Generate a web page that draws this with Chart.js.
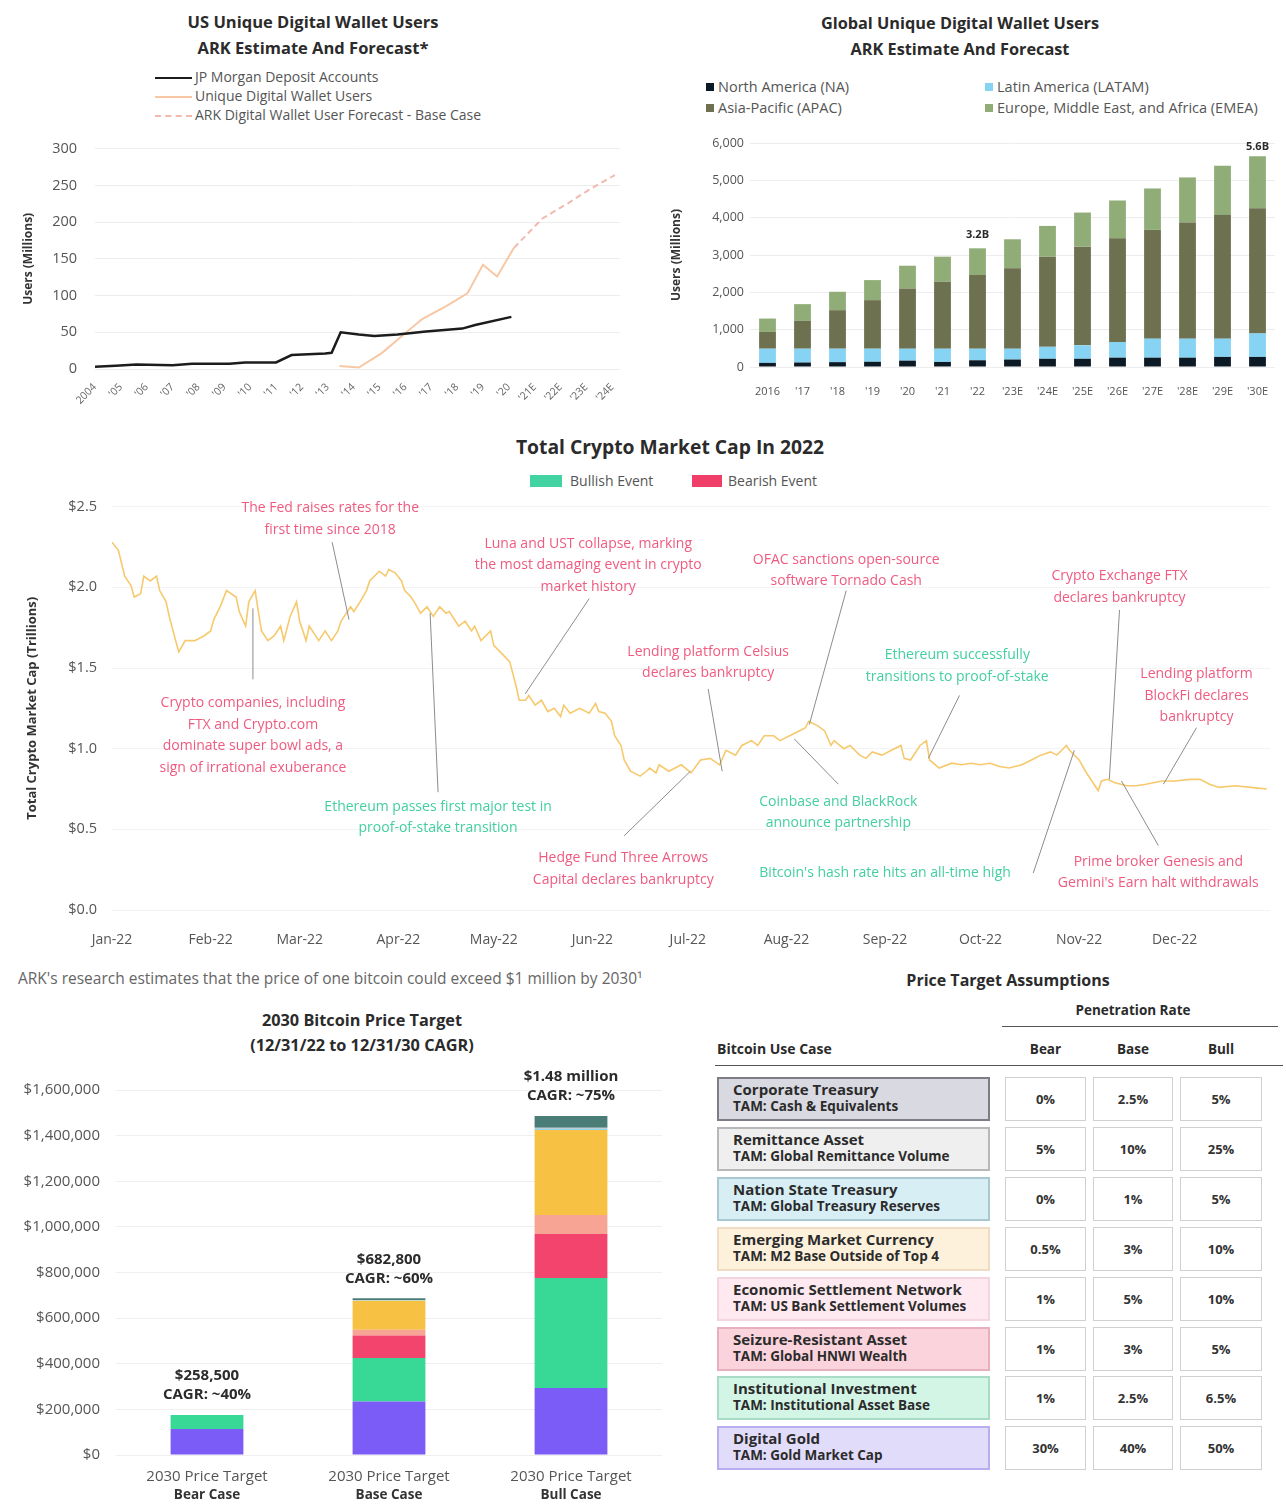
<!DOCTYPE html>
<html>
<head>
<meta charset="UTF-8">
<title>Digital Wallets, Crypto Market Cap and Bitcoin Price Target</title>
<script src="https://cdn.jsdelivr.net/npm/chart.js"></script>
<style>
    body {
        margin: 0;
        width: 1286px;
        height: 1505px;
        position: relative;
        overflow: hidden;
        background: #ffffff;
        font-family: "Open Sans", Lato, sans-serif;
        color: #333;
    }
    .title {
        position: absolute;
        text-align: center;
        font-weight: bold;
        color: #2b2b2b;
        white-space: nowrap;
    }
    .chart-box { position: absolute; }
    .lg {
        position: absolute;
        font-size: 14px;
        color: #555;
        white-space: nowrap;
        line-height: 16px;
    }
    .sw-line {
        display: inline-block;
        width: 37px;
        height: 0;
        vertical-align: middle;
        margin-right: 3px;
    }
    .sw-box {
        display: inline-block;
        width: 8px;
        height: 8px;
        vertical-align: middle;
        margin-right: 4px;
        margin-top: -2px;
    }
    .cell {
        position: absolute;
        box-sizing: border-box;
        display: flex;
        align-items: center;
        justify-content: center;
        font-weight: bold;
        font-size: 13px;
        color: #333;
        background: #fff;
        border: 1.5px solid #d0d0d0;
    }
    .usecase {
        position: absolute;
        box-sizing: border-box;
        padding-left: 14px;
        font-weight: bold;
        color: #2b2b2b;
        white-space: nowrap;
    }
    .usecase .n { font-size: 15px; line-height: 17px; margin-top: 2px; }
    .usecase .t { font-size: 13.5px; line-height: 17px; }
</style>
</head>
<body>

    <!-- top left -->
    <div class="title" style="left:113px;top:9px;width:400px;font-size:16.5px;line-height:26px;">US Unique Digital Wallet Users<br>ARK Estimate And Forecast*</div>
    <div class="lg" style="left:155px;top:69px;"><span class="sw-line" style="border-top:2.5px solid #1c1c1c"></span>JP Morgan Deposit Accounts</div>
    <div class="lg" style="left:155px;top:88px;"><span class="sw-line" style="border-top:2px solid #f8c7a4"></span>Unique Digital Wallet Users</div>
    <div class="lg" style="left:155px;top:107px;"><span class="sw-line" style="border-top:2px dashed #f3b8ae"></span>ARK Digital Wallet User Forecast - Base Case</div>
    <div class="chart-box" style="left:0;top:122px;width:640px;height:288px;"><canvas id="usChart"></canvas></div>

    <!-- top right -->
    <div class="title" style="left:760px;top:10px;width:400px;font-size:16.3px;line-height:26px;">Global Unique Digital Wallet Users<br>ARK Estimate And Forecast</div>
    <div class="lg" style="left:706px;top:79px;font-size:14.5px;"><span class="sw-box" style="background:#0c1a26"></span>North America (NA)</div>
    <div class="lg" style="left:985px;top:79px;font-size:14.5px;"><span class="sw-box" style="background:#86d3f3"></span>Latin America (LATAM)</div>
    <div class="lg" style="left:706px;top:100px;font-size:14.5px;"><span class="sw-box" style="background:#6d7150"></span>Asia-Pacific (APAC)</div>
    <div class="lg" style="left:985px;top:100px;font-size:14.5px;"><span class="sw-box" style="background:#90ad78"></span>Europe, Middle East, and Africa (EMEA)</div>
    <div class="chart-box" style="left:640px;top:125px;width:646px;height:285px;"><canvas id="globalChart"></canvas></div>

    <!-- middle -->
    <div class="title" style="left:420px;top:434px;width:500px;font-size:19.3px;line-height:26px;">Total Crypto Market Cap In 2022</div>
    <div class="lg" style="left:530px;top:473px;font-size:14px;"><span class="sw-box" style="background:#43d3a2;width:32px;height:12px;margin-right:8px"></span>Bullish Event</div>
    <div class="lg" style="left:692px;top:473px;font-size:14px;"><span class="sw-box" style="background:#ef3f68;width:30px;height:12px;margin-right:6px"></span>Bearish Event</div>
    <div class="chart-box" style="left:0;top:483px;width:1286px;height:472px;"><canvas id="cryptoChart"></canvas></div>

    <!-- bottom left -->
    <div class="lg" style="left:18px;top:970px;color:#666;font-size:15.5px;">ARK's research estimates that the price of one bitcoin could exceed $1 million by 2030¹</div>
    <div class="title" style="left:162px;top:1008px;width:400px;font-size:16.3px;line-height:25px;">2030 Bitcoin Price Target<br>(12/31/22 to 12/31/30 CAGR)</div>
    <div class="chart-box" style="left:0;top:1060px;width:680px;height:445px;"><canvas id="btcChart"></canvas></div>

    <!-- bottom right -->
    <div class="title" style="left:858px;top:970px;width:300px;font-size:16px;line-height:20px;">Price Target Assumptions</div>
    <div class="title" style="left:1033px;top:1002px;width:200px;font-size:13.5px;line-height:16px;">Penetration Rate</div>
    <div style="position:absolute;left:1002px;top:1026px;width:276px;border-top:1.5px solid #555;"></div>
    <div class="title" style="left:717px;top:1041px;font-size:14px;line-height:16px;text-align:left;">Bitcoin Use Case</div>
    <div id="rateHeads"></div>
    <div style="position:absolute;left:715px;top:1065px;width:568px;border-top:1.5px solid #555;"></div>
    <div id="table"></div>

<script>
// ---------- US unique digital wallet users (x = position on the year axis)
const usYearLabels = ['2004', "'05", "'06", "'07", "'08", "'09", "'10", "'11", "'12", "'13", "'14",
                      "'15", "'16", "'17", "'18", "'19", "'20", "'21E", "'22E", "'23E", "'24E"];
const jpmX = [0, 0.8, 1.6, 3, 3.75, 5.2, 5.8, 7, 7.6, 8.9, 9.15, 9.5, 10.2, 10.8, 11.7, 12.8, 14.2, 14.7, 16.1];
const jpmY = [3, 4.5, 6, 5, 7, 7, 9, 9, 19, 21, 22, 50, 47, 45, 47, 51, 55, 60, 71];
const walletX = [9.45, 10.2, 11.1, 11.8, 12.65, 13.6, 14.4, 15.0, 15.55, 16.2];
const walletY = [4, 2, 22, 43, 68, 86, 103, 142, 126, 165];
const forecastX = [16.2, 17.3, 18.3, 19.1, 20.1];
const forecastY = [165, 205, 226, 244, 264];

// ---------- global unique digital wallet users (millions)
const globalYears = ['2016', "'17", "'18", "'19", "'20", "'21", "'22", "'23E", "'24E", "'25E", "'26E", "'27E", "'28E", "'29E", "'30E"];
const naUsers = [110, 120, 130, 140, 170, 135, 180, 200, 220, 220, 250, 250, 250, 270, 270];
const latamUsers = [380, 370, 360, 350, 320, 355, 310, 290, 320, 360, 420, 510, 510, 490, 630];
const apacUsers = [450, 746, 1032, 1301, 1614, 1794, 1973, 2152, 2415, 2644, 2778, 2912, 3109, 3315, 3354];
const emeaUsers = [358, 448, 493, 537, 609, 671, 716, 779, 824, 913, 1012, 1110, 1209, 1316, 1388];
const calloutIndex = [6, 14];
const calloutText = ['3.2B', '5.6B'];

// ---------- total crypto market cap 2022 (day of year, trillions)
const monthLabels = ['Jan-22', 'Feb-22', 'Mar-22', 'Apr-22', 'May-22', 'Jun-22', 'Jul-22', 'Aug-22', 'Sep-22', 'Oct-22', 'Nov-22', 'Dec-22'];
const monthStartDays = [0, 31, 59, 90, 120, 151, 181, 212, 243, 273, 304, 334];
const capDays = [0, 2, 4, 6, 7, 9, 10, 12, 14, 15, 17, 18, 20, 21, 23, 26, 29, 31, 32, 34, 36, 39, 40, 42, 43, 45, 46, 47, 49,
    51, 53, 54, 56, 58, 59, 61, 62, 65, 67, 69, 71, 72, 73, 75, 76, 78, 80, 81, 84, 86, 87, 89, 91, 92, 94, 95, 97, 99,
    101, 103, 105, 106, 108, 109, 111, 113, 114, 116, 119, 120, 122, 125, 127, 128, 130, 131, 133, 135, 137, 139, 141,
    142, 144, 147, 150, 152, 153, 155, 157, 158, 160, 161, 163, 166, 168, 169, 171, 172, 175, 179, 182, 185, 188, 191,
    193, 196, 198, 201, 203, 205, 208, 210, 213, 216, 218, 219, 222, 224, 226, 227, 230, 232, 235, 237, 239, 242, 245,
    248, 249, 251, 254, 256, 257, 260, 264, 267, 270, 273, 276, 279, 282, 286, 289, 292, 295, 297, 300, 301, 304, 306,
    308, 310, 311, 313, 315, 319, 322, 325, 330, 334, 339, 342, 345, 348, 353, 358, 363];
const capValues = [2.28, 2.23, 2.07, 2.01, 1.94, 1.96, 2.07, 2.04, 2.07, 1.98, 1.91, 1.82, 1.67, 1.60, 1.67, 1.67, 1.70, 1.73, 1.80,
    1.88, 1.98, 1.94, 1.85, 1.76, 1.91, 1.98, 1.85, 1.73, 1.67, 1.70, 1.76, 1.67, 1.82, 1.91, 1.79, 1.67, 1.76, 1.67, 1.73,
    1.67, 1.73, 1.79, 1.82, 1.88, 1.85, 1.91, 1.98, 2.04, 2.10, 2.07, 2.11, 2.09, 2.04, 1.98, 1.94, 1.91, 1.84, 1.88, 1.82,
    1.88, 1.84, 1.85, 1.79, 1.76, 1.79, 1.73, 1.76, 1.67, 1.73, 1.64, 1.60, 1.54, 1.39, 1.30, 1.30, 1.33, 1.27, 1.30, 1.23,
    1.25, 1.20, 1.27, 1.22, 1.25, 1.22, 1.28, 1.23, 1.22, 1.17, 1.08, 1.02, 0.93, 0.86, 0.83, 0.86, 0.88, 0.85, 0.90, 0.86,
    0.90, 0.85, 0.93, 0.94, 0.90, 0.99, 0.96, 1.02, 1.05, 1.02, 1.08, 1.08, 1.05, 1.08, 1.11, 1.13, 1.17, 1.14, 1.11, 1.02,
    1.05, 1.00, 1.02, 0.96, 0.94, 0.98, 0.96, 0.99, 1.02, 0.94, 0.93, 1.02, 1.05, 0.93, 0.88, 0.91, 0.90, 0.91, 0.90, 0.91,
    0.89, 0.88, 0.90, 0.93, 0.96, 0.98, 0.96, 1.02, 0.99, 0.93, 0.86, 0.80, 0.74, 0.80, 0.81, 0.79, 0.77, 0.77, 0.78, 0.80,
    0.80, 0.81, 0.81, 0.78, 0.76, 0.77, 0.76, 0.75];

// events: text lines, kind, and where they sit on the chart (day, trillions)
const eventTexts = [
    ['The Fed raises rates for the', 'first time since 2018'],
    ['Crypto companies, including', 'FTX and Crypto.com', 'dominate super bowl ads, a', 'sign of irrational exuberance'],
    ['Ethereum passes first major test in', 'proof-of-stake transition'],
    ['Luna and UST collapse, marking', 'the most damaging event in crypto', 'market history'],
    ['Hedge Fund Three Arrows', 'Capital declares bankruptcy'],
    ['Lending platform Celsius', 'declares bankruptcy'],
    ['OFAC sanctions open-source', 'software Tornado Cash'],
    ['Coinbase and BlackRock', 'announce partnership'],
    ['Ethereum successfully', 'transitions to proof-of-stake'],
    ["Bitcoin's hash rate hits an all-time high"],
    ['Crypto Exchange FTX', 'declares bankruptcy'],
    ['Lending platform', 'BlockFi declares', 'bankruptcy'],
    ['Prime broker Genesis and', "Gemini's Earn halt withdrawals"]
];
const eventKinds = ['bear', 'bear', 'bull', 'bear', 'bear', 'bear', 'bear', 'bull', 'bull', 'bull', 'bear', 'bear', 'bear'];
const eventTextAt = [[68.6, 2.49], [44.3, 1.28], [102.5, 0.64], [149.7, 2.27], [160.7, 0.32], [187.4, 1.60], [230.8, 2.17],
    [228.3, 0.67], [265.7, 1.58], [243, 0.23], [316.7, 2.07], [340.9, 1.46], [328.9, 0.30]];
const eventLineFrom = [[69.2, 2.28], [44.3, 1.43], [102.5, 0.73], [150, 1.93], [161, 0.46], [187.4, 1.37], [230.8, 1.98],
    [228.3, 0.78], [266.4, 1.33], [289.6, 0.23], [316.7, 1.86], [340.9, 1.13], [328.9, 0.40]];
const eventLineTo = [[74.5, 1.80], [44.3, 1.87], [100, 1.84], [129.9, 1.34], [181.8, 0.86], [191.8, 0.86], [219.2, 1.15],
    [214.5, 1.06], [256.6, 0.94], [302.5, 0.99], [313.5, 0.81], [330.5, 0.78], [317.3, 0.80]];

// ---------- 2030 bitcoin price target (USD per coin, by use case)
const btcCases = ['Bear Case', 'Base Case', 'Bull Case'];
const btcTickTop = '2030 Price Target';
const btcTargets = ['$258,500', '$682,800', '$1.48 million'];
const btcCagr = ['CAGR: ~40%', 'CAGR: ~60%', 'CAGR: ~75%'];
const digitalGold = [114000, 235000, 294000];
const institutional = [61000, 190000, 482000];
const seizureResistant = [0, 99000, 193000];
const settlementNetwork = [0, 25000, 83000];
const emergingMarket = [0, 127000, 373000];
const nationState = [0, 2000, 5000];
const remittance = [0, 2000, 4000];
const corporateTreasury = [0, 7000, 52000];

// ---------- price target assumptions table
const tableUseCases = ['Corporate Treasury', 'Remittance Asset', 'Nation State Treasury', 'Emerging Market Currency',
    'Economic Settlement Network', 'Seizure-Resistant Asset', 'Institutional Investment', 'Digital Gold'];
const tableTams = ['TAM: Cash & Equivalents', 'TAM: Global Remittance Volume', 'TAM: Global Treasury Reserves',
    'TAM: M2 Base Outside of Top 4', 'TAM: US Bank Settlement Volumes', 'TAM: Global HNWI Wealth',
    'TAM: Institutional Asset Base', 'TAM: Gold Market Cap'];
const rateHeads = ['Bear', 'Base', 'Bull'];
const bearRates = ['0%', '5%', '0%', '0.5%', '1%', '1%', '1%', '30%'];
const baseRates = ['2.5%', '10%', '1%', '3%', '5%', '3%', '2.5%', '40%'];
const bullRates = ['5%', '25%', '5%', '10%', '10%', '5%', '6.5%', '50%'];

const pairs = (xs, ys) => xs.map((x, i) => ({ x: x, y: ys[i] }));
const FONT = "'Open Sans', Lato, sans-serif";

Chart.defaults.font.family = FONT;
Chart.defaults.color = '#555';

// US line chart
new Chart(document.getElementById('usChart'), {
    type: 'line',
    data: {
        datasets: [
            { label: 'JP Morgan Deposit Accounts', data: pairs(jpmX, jpmY), borderColor: '#1c1c1c', borderWidth: 2.5, pointRadius: 0 },
            { label: 'Unique Digital Wallet Users', data: pairs(walletX, walletY), borderColor: '#f8c7a4', borderWidth: 2, pointRadius: 0 },
            { label: 'ARK Digital Wallet User Forecast - Base Case', data: pairs(forecastX, forecastY), borderColor: '#f3b8ae', borderWidth: 2, borderDash: [6, 4], pointRadius: 0 }
        ]
    },
    options: {
        responsive: true,
        maintainAspectRatio: false,
        animation: false,
        layout: { padding: { top: 10, right: 20, left: 0, bottom: 0 } },
        plugins: { legend: { display: false }, tooltip: { enabled: false } },
        scales: {
            x: {
                type: 'linear', min: 0, max: 20.3,
                afterFit: s => { s.height = 41; },
                grid: { display: false }, border: { display: false },
                ticks: {
                    stepSize: 1, includeBounds: false, autoSkip: false, minRotation: 45, maxRotation: 45,
                    padding: 4, color: '#666', font: { size: 10.5 },
                    callback: v => usYearLabels[v] ?? ''
                }
            },
            y: {
                min: 0, max: 300,
                afterFit: s => { s.width = 95; },
                grid: { color: '#ededed', drawTicks: false }, border: { display: false },
                ticks: { stepSize: 50, padding: 18, color: '#555', font: { size: 14.5 } },
                title: { display: true, text: 'Users (Millions)', color: '#333', font: { size: 12, weight: 'bold' }, padding: { top: 21, bottom: 0 } }
            }
        }
    }
});

// global stacked bars
const calloutPlugin = {
    id: 'callouts',
    afterDatasetsDraw(chart) {
        const ctx = chart.ctx;
        const last = chart.getDatasetMeta(chart.data.datasets.length - 1);
        ctx.save();
        ctx.font = 'bold 11px ' + FONT;
        ctx.fillStyle = '#2b2b2b';
        ctx.textAlign = 'center';
        ctx.textBaseline = 'middle';
        calloutIndex.forEach((idx, k) => {
            const bar = last.data[idx];
            ctx.fillText(calloutText[k], bar.x, Math.max(bar.y - 13, chart.chartArea.top + 4));
        });
        ctx.restore();
    }
};

new Chart(document.getElementById('globalChart'), {
    type: 'bar',
    data: {
        labels: globalYears,
        datasets: [
            { label: 'North America (NA)', data: naUsers, backgroundColor: '#0c1a26' },
            { label: 'Latin America (LATAM)', data: latamUsers, backgroundColor: '#86d3f3' },
            { label: 'Asia-Pacific (APAC)', data: apacUsers, backgroundColor: '#6d7150' },
            { label: 'Europe, Middle East, and Africa (EMEA)', data: emeaUsers, backgroundColor: '#90ad78' }
        ]
    },
    options: {
        responsive: true,
        maintainAspectRatio: false,
        animation: false,
        layout: { padding: { top: 18, right: 11, left: 0, bottom: 0 } },
        datasets: { bar: { barPercentage: 0.48, categoryPercentage: 1 } },
        plugins: { legend: { display: false }, tooltip: { enabled: false } },
        scales: {
            x: {
                stacked: true,
                afterFit: s => { s.height = 43; },
                grid: { display: false }, border: { display: false },
                ticks: { padding: 10, color: '#555', font: { size: 11 }, autoSkip: false, maxRotation: 0 }
            },
            y: {
                stacked: true, min: 0, max: 6000,
                afterFit: s => { s.width = 110; },
                grid: { color: '#ededed', drawTicks: false }, border: { display: false },
                ticks: { stepSize: 1000, padding: 6, color: '#555', font: { size: 12.5 } },
                title: { display: true, text: 'Users (Millions)', color: '#333', font: { size: 12, weight: 'bold' }, padding: { top: 29, bottom: 0 } }
            }
        }
    },
    plugins: [calloutPlugin]
});

// crypto market cap line with event notes
const eventPlugin = {
    id: 'events',
    afterDatasetsDraw(chart) {
        const ctx = chart.ctx;
        const x = chart.scales.x;
        const y = chart.scales.y;
        ctx.save();
        eventTexts.forEach((lines, i) => {
            ctx.strokeStyle = '#8c8c8c';
            ctx.lineWidth = 1;
            ctx.beginPath();
            ctx.moveTo(x.getPixelForValue(eventLineFrom[i][0]), y.getPixelForValue(eventLineFrom[i][1]));
            ctx.lineTo(x.getPixelForValue(eventLineTo[i][0]), y.getPixelForValue(eventLineTo[i][1]));
            ctx.stroke();
            ctx.fillStyle = eventKinds[i] === 'bull' ? '#43cfa0' : '#ef5b80';
            ctx.font = '14px ' + FONT;
            ctx.textAlign = 'center';
            ctx.textBaseline = 'middle';
            const cx = x.getPixelForValue(eventTextAt[i][0]);
            const cy = y.getPixelForValue(eventTextAt[i][1]);
            lines.forEach((t, k) => ctx.fillText(t, cx, cy + k * 21.5));
        });
        ctx.restore();
    }
};

new Chart(document.getElementById('cryptoChart'), {
    type: 'line',
    data: {
        datasets: [{ label: 'Total Crypto Market Cap', data: pairs(capDays, capValues), borderColor: '#f6c96c', borderWidth: 1.6, pointRadius: 0 }]
    },
    options: {
        responsive: true,
        maintainAspectRatio: false,
        animation: false,
        layout: { padding: { top: 10, right: 16, left: 0, bottom: 0 } },
        plugins: { legend: { display: false }, tooltip: { enabled: false } },
        scales: {
            x: {
                type: 'linear', min: 0, max: 364,
                afterFit: s => { s.height = 45; },
                afterBuildTicks: s => { s.ticks = monthStartDays.map(v => ({ value: v })); },
                grid: { display: false }, border: { display: false },
                ticks: {
                    autoSkip: false, maxRotation: 0, padding: 14, color: '#555', font: { size: 14 },
                    callback: v => monthLabels[monthStartDays.indexOf(v)]
                }
            },
            y: {
                min: 0, max: 2.5,
                afterFit: s => { s.width = 112; },
                grid: { color: '#f3f3f3', drawTicks: false }, border: { display: false },
                ticks: { stepSize: 0.5, padding: 15, color: '#555', font: { size: 14.5 }, callback: v => '$' + v.toFixed(1) },
                title: { display: true, text: 'Total Crypto Market Cap (Trillions)', color: '#333', font: { size: 13, weight: 'bold' }, padding: { top: 24, bottom: 0 } }
            }
        }
    },
    plugins: [eventPlugin]
});

// bitcoin price target stacked bars
const btcLabelPlugin = {
    id: 'btcLabels',
    afterDatasetsDraw(chart) {
        const ctx = chart.ctx;
        const area = chart.chartArea;
        ctx.save();
        ctx.textAlign = 'center';
        ctx.textBaseline = 'middle';
        btcCases.forEach((c, i) => {
            let top = area.bottom;
            let cx = 0;
            chart.data.datasets.forEach((d, k) => {
                const el = chart.getDatasetMeta(k).data[i];
                top = Math.min(top, el.y);
                cx = el.x;
            });
            ctx.fillStyle = '#2b2b2b';
            ctx.font = 'bold 15px ' + FONT;
            ctx.fillText(btcTargets[i], cx, top - 39);
            ctx.fillText(btcCagr[i], cx, top - 20);
            ctx.fillStyle = '#555';
            ctx.font = '15px ' + FONT;
            ctx.fillText(btcTickTop, cx, area.bottom + 22);
            ctx.fillStyle = '#333';
            ctx.font = 'bold 13.5px ' + FONT;
            ctx.fillText(c, cx, area.bottom + 40);
        });
        ctx.restore();
    }
};

new Chart(document.getElementById('btcChart'), {
    type: 'bar',
    data: {
        labels: btcCases,
        datasets: [
            { label: 'Digital Gold', data: digitalGold, backgroundColor: '#7b5cf6' },
            { label: 'Institutional Investment', data: institutional, backgroundColor: '#38d996' },
            { label: 'Seizure-Resistant Asset', data: seizureResistant, backgroundColor: '#f2446c' },
            { label: 'Economic Settlement Network', data: settlementNetwork, backgroundColor: '#f8a494' },
            { label: 'Emerging Market Currency', data: emergingMarket, backgroundColor: '#f7c143' },
            { label: 'Nation State Treasury', data: nationState, backgroundColor: '#8fd3ee' },
            { label: 'Remittance Asset', data: remittance, backgroundColor: '#bdbdbd' },
            { label: 'Corporate Treasury', data: corporateTreasury, backgroundColor: '#4a7d78' }
        ]
    },
    options: {
        responsive: true,
        maintainAspectRatio: false,
        animation: false,
        layout: { padding: { top: 30, right: 18, left: 0, bottom: 0 } },
        datasets: { bar: { barPercentage: 0.4, categoryPercentage: 1 } },
        plugins: { legend: { display: false }, tooltip: { enabled: false } },
        scales: {
            x: {
                stacked: true,
                afterFit: s => { s.height = 50; },
                grid: { display: false }, border: { display: false },
                ticks: { display: false }
            },
            y: {
                stacked: true, min: 0, max: 1600000,
                afterFit: s => { s.width = 116; },
                grid: { color: '#efefef', drawTicks: false }, border: { display: false },
                ticks: { stepSize: 200000, padding: 16, color: '#555', font: { size: 15 }, callback: v => '$' + v.toLocaleString('en-US') }
            }
        }
    },
    plugins: [btcLabelPlugin]
});

// assumptions table
const rowFills = ['#d9d9e1', '#efefef', '#d8eef5', '#fdf1dc', '#fde9ef', '#fbd3dd', '#d3f5e6', '#e2dcfb'];
const rowBorders = ['#7d7d85', '#b8b8b8', '#a9c8d2', '#f0dcc2', '#f3d5de', '#e8b0bf', '#a9dcc6', '#b9acef'];
const cellLefts = [1005, 1093, 1180];
const cellWidths = [81, 80, 82];
const heads = document.getElementById('rateHeads');
rateHeads.forEach((h, j) => {
    const d = document.createElement('div');
    d.className = 'title';
    d.style.cssText = `left:${cellLefts[j]}px;top:1041px;width:${cellWidths[j]}px;font-size:13.5px;line-height:16px;`;
    d.textContent = h;
    heads.appendChild(d);
});
const table = document.getElementById('table');
tableUseCases.forEach((name, i) => {
    const top = 1077 + i * 49.9;
    const box = document.createElement('div');
    box.className = 'usecase';
    box.style.cssText = `left:717px;top:${top}px;width:273px;height:44px;background:${rowFills[i]};border:2.5px solid ${rowBorders[i]};`;
    box.innerHTML = `<div class="n"></div><div class="t"></div>`;
    box.querySelector('.n').textContent = name;
    box.querySelector('.t').textContent = tableTams[i];
    table.appendChild(box);
    [bearRates[i], baseRates[i], bullRates[i]].forEach((r, j) => {
        const c = document.createElement('div');
        c.className = 'cell';
        c.style.cssText = `left:${cellLefts[j]}px;top:${top}px;width:${cellWidths[j]}px;height:44px;`;
        c.textContent = r;
        table.appendChild(c);
    });
});
</script>
</body>
</html>
